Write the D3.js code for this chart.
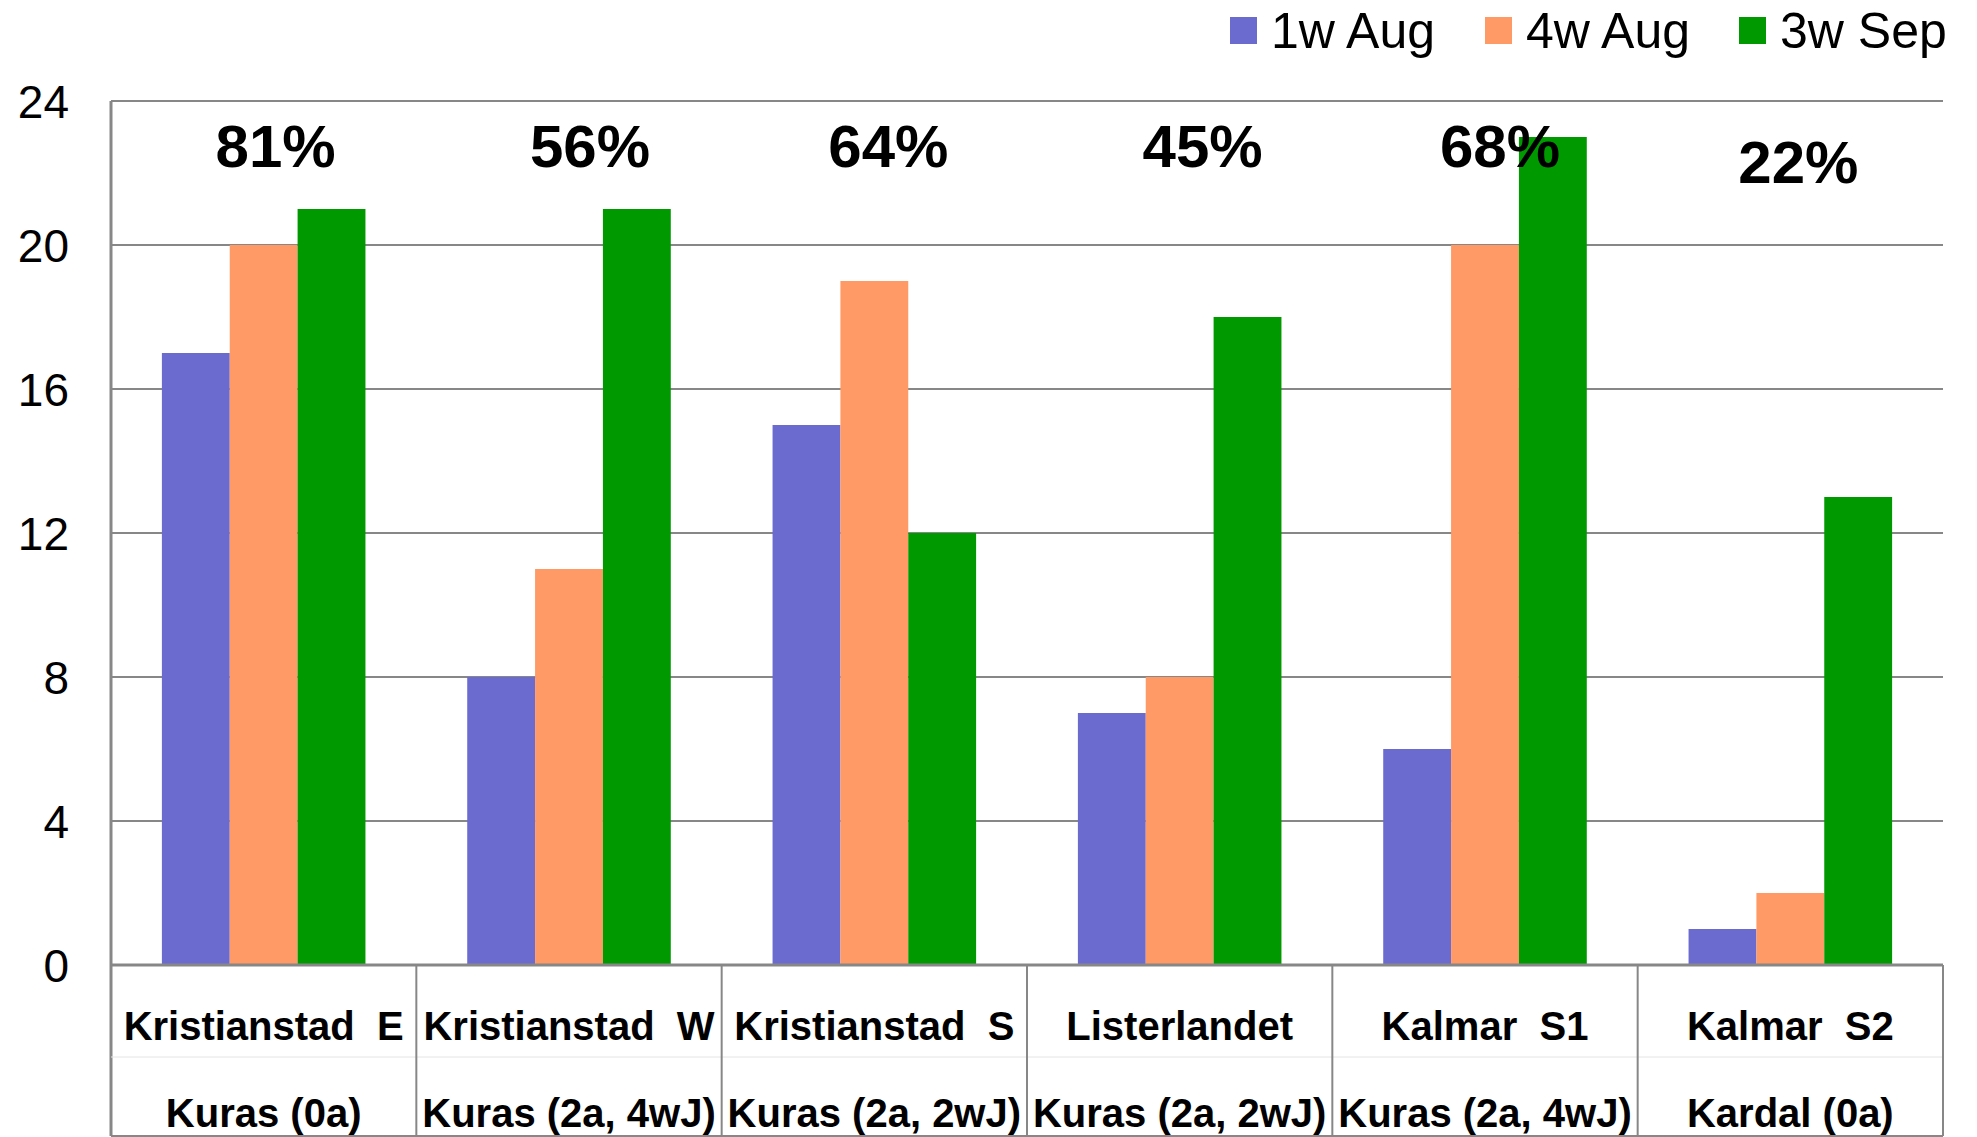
<!DOCTYPE html>
<html>
<head>
<meta charset="utf-8">
<script src="https://cdn.jsdelivr.net/npm/d3@7"></script>
<style>
  html, body { margin: 0; padding: 0; background: #ffffff; }
  svg { display: block; }
  text { font-family: "Liberation Sans", Arial, sans-serif; }
</style>
</head>
<body>
<svg id="chart" width="1977" height="1137"></svg>
<script>
// ---- data ----
const sites      = ["Kristianstad  E", "Kristianstad  W", "Kristianstad  S", "Listerlandet", "Kalmar  S1", "Kalmar  S2"];
const treatments = ["Kuras (0a)", "Kuras (2a, 4wJ)", "Kuras (2a, 2wJ)", "Kuras (2a, 2wJ)", "Kuras (2a, 4wJ)", "Kardal (0a)"];
const seriesNames = ["1w Aug", "4w Aug", "3w Sep"];
const aug1 = [17, 8, 15, 7, 6, 1];
const aug4 = [20, 11, 19, 8, 20, 2];
const sep3 = [21, 21, 12, 18, 23, 13];
const percents = ["81%", "56%", "64%", "45%", "68%", "22%"];
const yTicks = [0, 4, 8, 12, 16, 20, 24];
const colors = ["#6B6BCF", "#FF9966", "#009900"];

(function () {
// ---- layout ----
const svg = d3.select("#chart");
const pLeft = 111, pRight = 1943, pTop = 101, base = 965, tableMid = 1057, tableBottom = 1136;
const pctDx = [12, 21, 14, 23, 15, 8];   // label offsets from category centre (px)
const pctY  = [167, 167, 167, 167, 167, 183];

const series = [aug1, aug4, sep3];
const idx = d3.range(sites.length);

const x0 = d3.scaleBand().domain(idx).range([pLeft, pRight]).paddingInner(0).paddingOuter(0);
const x1 = d3.scaleBand().domain(d3.range(seriesNames.length)).range([0, x0.bandwidth()]).paddingInner(0).paddingOuter(0.75);
const y = d3.scaleLinear().domain([0, 24]).range([base, pTop]);

const grey = "#878787";

// gridlines
svg.append("g").selectAll("line").data(yTicks.filter(t => t > 0)).join("line")
  .attr("x1", pLeft).attr("x2", pRight)
  .attr("y1", d => y(d)).attr("y2", d => y(d))
  .attr("stroke", grey).attr("stroke-width", 2);

// bars
const groups = svg.append("g").selectAll("g").data(idx).join("g")
  .attr("transform", i => `translate(${x0(i)},0)`);
groups.selectAll("rect").data(i => series.map((s, k) => ({k, v: s[i]}))).join("rect")
  .attr("x", d => x1(d.k))
  .attr("width", x1.bandwidth())
  .attr("y", d => y(d.v))
  .attr("height", d => base - y(d.v))
  .attr("fill", d => colors[d.k]);

// y axis via d3 axis
const yAxis = d3.axisLeft(y).tickValues(yTicks).tickSize(0).tickPadding(0).tickFormat(d3.format("d"));
const ga = svg.append("g").attr("transform", `translate(69,0)`).call(yAxis);
ga.select(".domain").remove();
ga.selectAll("text").attr("font-size", 46).attr("fill", "#000").attr("dy", "0.36em")
  .style("font-family", "'Liberation Sans', Arial, sans-serif");

// table lines
svg.append("line").attr("x1", pLeft).attr("x2", pLeft).attr("y1", pTop).attr("y2", tableBottom)
  .attr("stroke", grey).attr("stroke-width", 3);
svg.append("line").attr("x1", pLeft).attr("x2", pRight).attr("y1", base).attr("y2", base)
  .attr("stroke", grey).attr("stroke-width", 3);
svg.append("line").attr("x1", pLeft).attr("x2", pRight).attr("y1", tableBottom).attr("y2", tableBottom)
  .attr("stroke", grey).attr("stroke-width", 2);
svg.append("line").attr("x1", pLeft).attr("x2", pRight).attr("y1", tableMid).attr("y2", tableMid)
  .attr("stroke", "#e4e4e4").attr("stroke-width", 1);
svg.append("g").selectAll("line").data(idx).join("line")
  .attr("x1", i => x0(i) + x0.bandwidth()).attr("x2", i => x0(i) + x0.bandwidth())
  .attr("y1", base).attr("y2", tableBottom)
  .attr("stroke", grey).attr("stroke-width", 2);

// category labels
const cx = i => x0(i) + x0.bandwidth() / 2;
svg.append("g").selectAll("text").data(idx).join("text")
  .attr("x", cx).attr("y", 1040).attr("text-anchor", "middle")
  .attr("font-size", 40).attr("font-weight", "bold").attr("fill", "#000")
  .style("white-space", "pre")
  .text(i => sites[i]);
svg.append("g").selectAll("text").data(idx).join("text")
  .attr("x", cx).attr("y", 1127).attr("text-anchor", "middle")
  .attr("font-size", 40).attr("font-weight", "bold").attr("fill", "#000")
  .text(i => treatments[i]);

// percent labels
svg.append("g").selectAll("text").data(idx).join("text")
  .attr("x", i => cx(i) + pctDx[i]).attr("y", i => pctY[i]).attr("text-anchor", "middle")
  .attr("font-size", 60).attr("font-weight", "bold").attr("fill", "#000")
  .text(i => percents[i]);

// legend
const legX = [1230, 1485, 1739];
const leg = svg.append("g").selectAll("g").data(seriesNames).join("g")
  .attr("transform", (d, k) => `translate(${legX[k]},0)`);
leg.append("rect").attr("x", 0).attr("y", 17).attr("width", 27).attr("height", 27)
  .attr("fill", (d, k) => colors[k]);
leg.append("text").attr("x", 41).attr("y", 48).attr("font-size", 50).attr("fill", "#000")
  .text(d => d);
})();
</script>
</body>
</html>
